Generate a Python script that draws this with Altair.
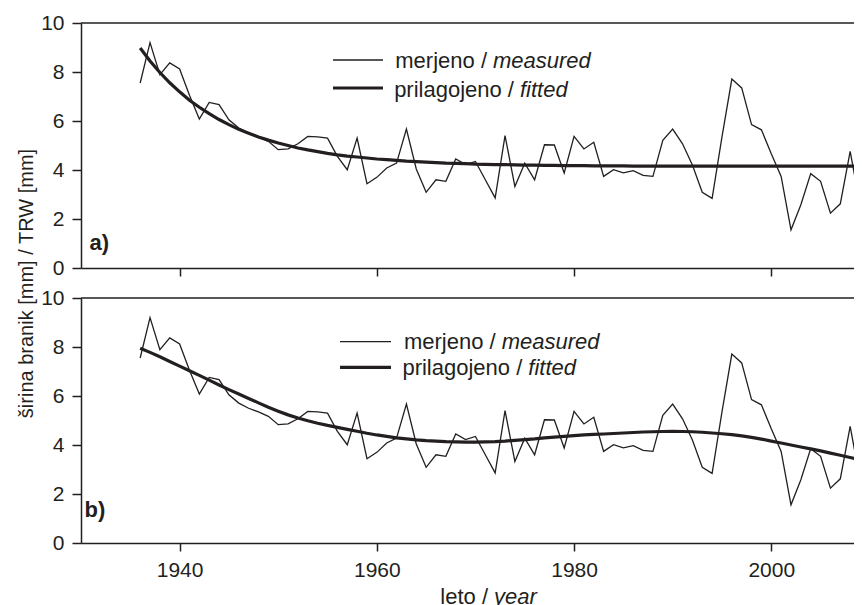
import altair as alt
import pandas as pd

# ---- data ----
years = list(range(1936, 2010))
measured = [7.55, 9.20, 7.89, 8.37, 8.12, 7.05, 6.08, 6.76, 6.67, 6.05,
            5.71, 5.50, 5.35, 5.17, 4.83, 4.86, 5.07, 5.37, 5.35, 5.30,
            4.56, 4.01, 5.30, 3.44, 3.70, 4.08, 4.28, 5.67, 4.04, 3.09,
            3.60, 3.54, 4.45, 4.22, 4.35, 3.60, 2.86, 5.40, 3.33, 4.28,
            3.60, 5.03, 5.02, 3.88, 5.37, 4.86, 5.13, 3.74, 4.01, 3.88,
            3.97, 3.78, 3.74, 5.21, 5.67, 5.07, 4.20, 3.09, 2.84, 5.35,
            7.71, 7.35, 5.85, 5.64, 4.66, 3.74, 1.56, 2.58, 3.85, 3.54,
            2.24, 2.62, 4.76, 2.58]
fitted_a = [8.98, 8.45, 7.98, 7.56, 7.19, 6.85, 6.56, 6.30, 6.06, 5.85,
            5.66, 5.50, 5.35, 5.22, 5.10, 5.00, 4.90, 4.82, 4.75, 4.68,
            4.62, 4.57, 4.53, 4.49, 4.45, 4.42, 4.39, 4.36, 4.34, 4.32,
            4.30, 4.28, 4.27, 4.26, 4.24, 4.23, 4.22, 4.22, 4.21, 4.20,
            4.20, 4.19, 4.19, 4.18, 4.18, 4.18, 4.17, 4.17, 4.17, 4.17,
            4.16, 4.16, 4.16, 4.16, 4.16, 4.16, 4.16, 4.16, 4.16, 4.16,
            4.16, 4.16, 4.16, 4.16, 4.16, 4.16, 4.16, 4.16, 4.16, 4.16,
            4.16, 4.16, 4.16, 4.16]
fitted_b = [7.95, 7.78, 7.60, 7.41, 7.22, 7.03, 6.84, 6.65, 6.45, 6.26,
            6.08, 5.90, 5.72, 5.54, 5.38, 5.23, 5.10, 4.99, 4.89, 4.80,
            4.72, 4.64, 4.56, 4.48, 4.41, 4.35, 4.29, 4.25, 4.21, 4.18,
            4.16, 4.14, 4.13, 4.12, 4.12, 4.13, 4.14, 4.16, 4.19, 4.22,
            4.25, 4.29, 4.32, 4.35, 4.38, 4.41, 4.43, 4.45, 4.47, 4.49,
            4.51, 4.53, 4.54, 4.55, 4.56, 4.55, 4.54, 4.52, 4.49, 4.46,
            4.42, 4.37, 4.31, 4.24, 4.16, 4.08, 4.00, 3.92, 3.84, 3.76,
            3.67, 3.58, 3.49, 3.40]
x_ticks = [1940, 1960, 1980, 2000]
y_ticks = [0, 2, 4, 6, 8, 10]

df = pd.DataFrame({"year": years, "measured": measured,
                   "fitted_a": fitted_a, "fitted_b": fitted_b})
one = pd.DataFrame({"k": [0]})

FONT = "Liberation Sans"
C = "#231f20"
W, H = 781, 245

xscale = alt.Scale(domain=[1930, 2009.2], nice=False, zero=False)
yscale = alt.Scale(domain=[0, 10], nice=False)

axis_common = dict(labelFont=FONT, labelFontSize=21, labelColor=C,
                   domainColor=C, domainWidth=1.5, tickColor=C,
                   tickWidth=1.5, grid=False, title=None)


def label(text, x, y, **kw):
    return alt.Chart(one).mark_text(text=text, font=FONT, color=C, **kw).encode(
        x=alt.value(x), y=alt.value(y))


def hline(x1, x2, y, w):
    return alt.Chart(one).mark_rule(color=C, strokeWidth=w).encode(
        x=alt.value(x1), x2=alt.value(x2), y=alt.value(y))


def panel(fit_col, show_labels, leg, tag, tag_xy, extra):
    xaxis = alt.Axis(values=x_ticks, labels=show_labels, format="d",
                     tickSize=8, labelPadding=8, **axis_common)
    yaxis = alt.Axis(values=y_ticks, tickSize=9, labelPadding=8, **axis_common)
    base = alt.Chart(df)
    meas = base.mark_line(color=C, strokeWidth=1.3, clip=True).encode(
        x=alt.X("year:Q", scale=xscale, axis=xaxis),
        y=alt.Y("measured:Q", scale=yscale, axis=yaxis))
    fit = base.mark_line(color=C, strokeWidth=3.2, clip=True).encode(
        x=alt.X("year:Q", scale=xscale, axis=xaxis),
        y=alt.Y(f"{fit_col}:Q", scale=yscale, axis=yaxis))
    lx1, lx2, ly1, ly2, tb1, tb2, split1, split2 = leg
    layers = [
        hline(0, W, 0, 1.5),
        meas, fit,
        hline(lx1, lx2, ly1, 1.3),
        hline(lx1, lx2, ly2, 3.2),
        label("merjeno /", split1 - 6, tb1, fontSize=22, align="right", baseline="alphabetic"),
        label("measured", split1, tb1, fontSize=22, fontStyle="italic", align="left", baseline="alphabetic"),
        label("prilagojeno /", split2 - 6, tb2, fontSize=22, align="right", baseline="alphabetic"),
        label("fitted", split2, tb2, fontSize=22, fontStyle="italic", align="left", baseline="alphabetic"),
        label(tag, tag_xy[0], tag_xy[1], fontSize=22, fontWeight="bold", align="left", baseline="alphabetic"),
    ] + extra
    return alt.layer(*layers).properties(width=W, height=H)


# invisible anchor fixing the chart's top-left bounds
anchor = alt.Chart(one).mark_rule(color="white", opacity=0, strokeWidth=1).encode(
    x=alt.value(-72.5), x2=alt.value(-72.5), y=alt.value(-15), y2=alt.value(-14))

top = panel("fitted_a", False,
            (252, 302, 37, 65, 45.3, 73.7, 412, 439),
            "a)", (8.5, 227),
            [anchor,
             label("širina branik [mm] / TRW [mm]", -48, 260.5, fontSize=20,
                   angle=270, align="center", baseline="alphabetic")])

bottom = panel("fitted_b", True,
               (259, 310, 43.7, 69.3, 51, 77, 420.7, 447.3),
               "b)", (3.5, 219.3),
               [label("leto /", 407, 305.5, fontSize=22, align="right", baseline="alphabetic"),
                label("year", 413, 305.5, fontSize=22, fontStyle="italic", align="left", baseline="alphabetic")])

chart = alt.vconcat(top, bottom, spacing=30, bounds="flush").properties(
    padding={"top": 0, "left": 0, "right": -9, "bottom": 0}
).configure_view(stroke=None)

chart.save("out.html", embed_options={"renderer": "svg", "actions": False})
